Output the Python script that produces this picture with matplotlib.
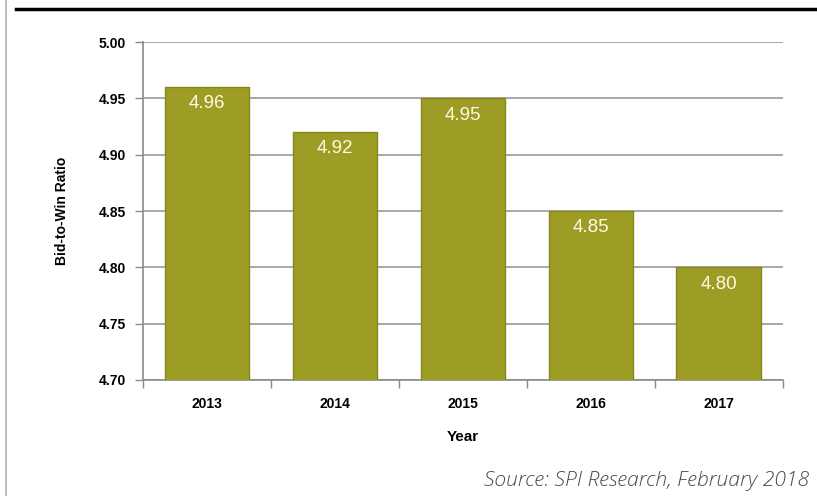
import matplotlib.pyplot as plt
from matplotlib.lines import Line2D

# Bid-to-win ratio by year
years = ["2013", "2014", "2015", "2016", "2017"]
ratios = [4.96, 4.92, 4.95, 4.85, 4.80]
yticks = [4.70, 4.75, 4.80, 4.85, 4.90, 4.95, 5.00]

plt.rcParams['font.family'] = ['Liberation Sans', 'DejaVu Sans']

fig = plt.figure(figsize=(8.17, 4.96), dpi=100)
ax = fig.add_axes([0.175, 0.234, 0.783, 0.681])

x = list(range(len(years)))
bars = ax.bar(x, ratios, width=0.66, color='#9d9c24', edgecolor='#88871c',
              linewidth=1.0, zorder=3)

for xi, v in zip(x, ratios):
    ax.annotate(f"{v:.2f}", (xi, v), xytext=(0, -12), textcoords='offset points',
                ha='center', va='center', color='#fffbe8', fontsize=13.5, zorder=4)

ax.set_xlim(-0.5, len(years) - 0.5)
ax.set_ylim(4.70, 5.00)
ax.set_yticks(yticks)
ax.set_yticklabels([f"{t:.2f}" for t in yticks], fontweight='bold', fontsize=10)
ax.yaxis.grid(True, color='#9a9a9a', linewidth=1.2, zorder=0)

# category labels in the middle, tick marks on the boundaries
ax.set_xticks(x)
ax.set_xticklabels(years, fontweight='bold', fontsize=10)
ax.tick_params(axis='x', length=0, pad=12)
ax.set_xticks([i - 0.5 for i in range(len(years) + 1)], minor=True)
ax.tick_params(axis='x', which='minor', length=6, color='#8a8a8a', width=1)
ax.tick_params(axis='y', length=6, color='#8a8a8a', width=1, pad=6)

for side in ['top', 'right']:
    ax.spines[side].set_visible(False)
for side in ['left', 'bottom']:
    ax.spines[side].set_color('#8a8a8a')
    ax.spines[side].set_linewidth(1.2)

ax.set_ylabel("Bid-to-Win Ratio", fontweight='bold', fontsize=10, labelpad=22)
ax.set_xlabel("Year", fontweight='bold', fontsize=11, labelpad=14)

# page frame: heavy rule on top, light rule on the left
fig.add_artist(Line2D([16 / 817, 1.0], [1 - 9 / 496, 1 - 9 / 496],
                      color='black', linewidth=2.5, transform=fig.transFigure))
fig.add_artist(Line2D([6 / 817, 6 / 817], [0, 1],
                      color='#bcbcbc', linewidth=1.5, transform=fig.transFigure))

fig.text(809 / 817, 1 - 481 / 496, "Source: SPI Research, February 2018",
         family=['Open Sans', 'DejaVu Sans'], style='italic', fontweight='light',
         fontsize=15.2, color='#4a4a4a', ha='right', va='center')

fig.savefig("out.png", dpi=100)
